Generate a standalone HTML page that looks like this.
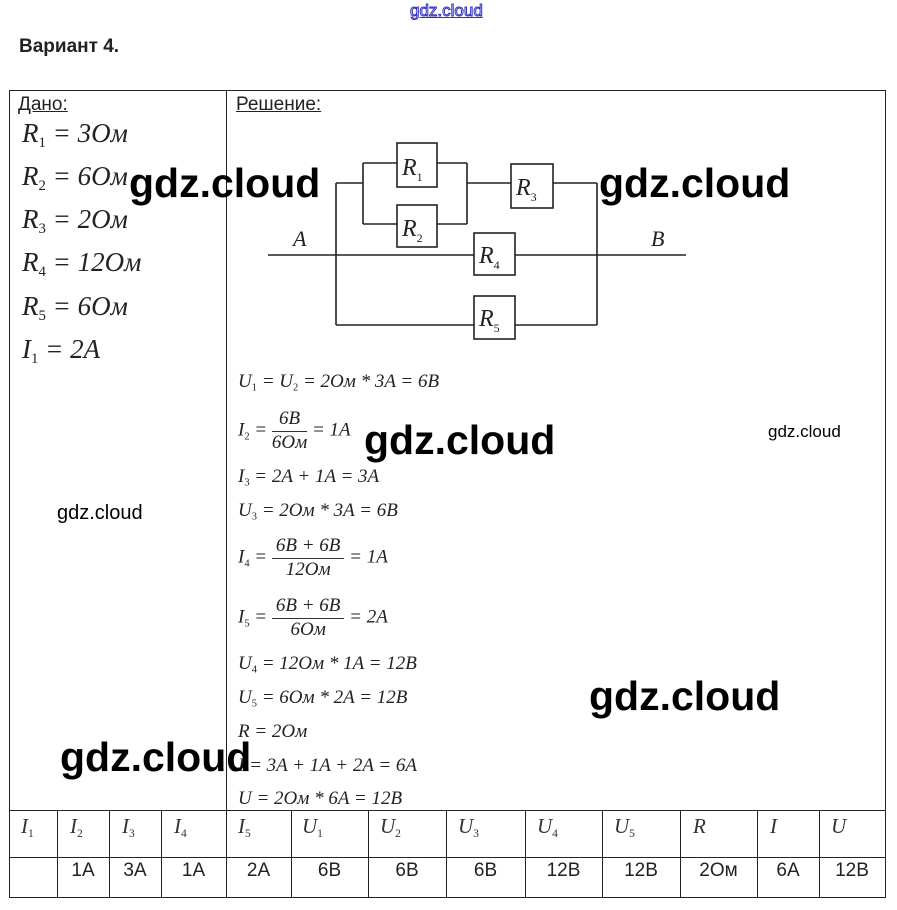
<!DOCTYPE html>
<html><head><meta charset="utf-8">
<style>
body{margin:0;width:897px;height:910px;background:#fff;position:relative;overflow:hidden;font-family:"Liberation Sans",sans-serif;}
.a{position:absolute;white-space:nowrap;}
.f{font-family:"Liberation Serif",serif;font-style:italic;color:#222;}
.f sub{font-size:55%;font-style:normal;vertical-align:-0.35em;}
.g{font-family:"Liberation Sans",sans-serif;font-weight:bold;color:#000;}
.ln{position:absolute;background:#222;}
.frac{display:inline-block;vertical-align:middle;text-align:center;}
.frac span{display:block;line-height:1.2;}
.frac .n{border-bottom:1px solid #333;padding:0 4px;}
.th{position:absolute;top:814px;font-family:"Liberation Serif",serif;font-style:italic;font-size:21px;color:#333;}
.th sub{font-size:55%;font-style:normal;vertical-align:-0.35em;}
.td{position:absolute;top:860px;font-size:19px;color:#222;text-align:center;}
</style></head><body>
<div class="a" style="left:410px;top:1px;font-size:17px;color:#fff;-webkit-text-stroke:1px #3030c0;text-decoration:underline;text-decoration-color:#3030c0;">gdz.cloud</div>
<div class="a" style="left:19px;top:36px;font-size:19px;font-weight:bold;color:#222;">Вариант 4.</div>

<!-- table lines -->
<div class="ln" style="left:9px;top:90px;width:877px;height:1px;"></div>
<div class="ln" style="left:9px;top:90px;width:1px;height:808px;"></div>
<div class="ln" style="left:885px;top:90px;width:1px;height:808px;"></div>
<div class="ln" style="left:9px;top:897px;width:877px;height:1px;"></div>
<div class="ln" style="left:226px;top:90px;width:1px;height:808px;"></div>
<div class="ln" style="left:9px;top:810px;width:877px;height:1px;"></div>
<div class="ln" style="left:9px;top:857px;width:877px;height:1px;"></div>
<div class="ln" style="left:57px;top:810px;width:1px;height:88px;"></div>
<div class="ln" style="left:109px;top:810px;width:1px;height:88px;"></div>
<div class="ln" style="left:161px;top:810px;width:1px;height:88px;"></div>
<div class="ln" style="left:291px;top:810px;width:1px;height:88px;"></div>
<div class="ln" style="left:368px;top:810px;width:1px;height:88px;"></div>
<div class="ln" style="left:446px;top:810px;width:1px;height:88px;"></div>
<div class="ln" style="left:525px;top:810px;width:1px;height:88px;"></div>
<div class="ln" style="left:602px;top:810px;width:1px;height:88px;"></div>
<div class="ln" style="left:680px;top:810px;width:1px;height:88px;"></div>
<div class="ln" style="left:757px;top:810px;width:1px;height:88px;"></div>
<div class="ln" style="left:819px;top:810px;width:1px;height:88px;"></div>

<div class="a" style="left:18px;top:94px;font-size:19px;color:#222;text-decoration:underline;">Дано:</div>
<div class="a" style="left:236px;top:94px;font-size:19px;color:#222;text-decoration:underline;">Решение:</div>

<div class="a f" style="left:22px;top:118px;font-size:27px;">R<sub>1</sub> = 3Ом</div>
<div class="a f" style="left:22px;top:161px;font-size:27px;">R<sub>2</sub> = 6Ом</div>
<div class="a f" style="left:22px;top:204px;font-size:27px;">R<sub>3</sub> = 2Ом</div>
<div class="a f" style="left:22px;top:247px;font-size:27px;">R<sub>4</sub> = 12Ом</div>
<div class="a f" style="left:22px;top:291px;font-size:27px;">R<sub>5</sub> = 6Ом</div>
<div class="a f" style="left:22px;top:334px;font-size:27px;">I<sub>1</sub> = 2A</div>

<svg class="a" style="left:0;top:0" width="897" height="910">
<g stroke="#222" stroke-width="1.6" fill="none">
<line x1="268" y1="255" x2="474" y2="255"/><line x1="515" y1="255" x2="686" y2="255"/>
<line x1="336" y1="183" x2="336" y2="325"/><line x1="597" y1="183" x2="597" y2="325"/>
<line x1="336" y1="183" x2="363" y2="183"/>
<line x1="363" y1="163" x2="363" y2="224"/>
<line x1="363" y1="163" x2="397" y2="163"/><line x1="437" y1="163" x2="467" y2="163"/>
<line x1="363" y1="224" x2="397" y2="224"/><line x1="437" y1="224" x2="467" y2="224"/>
<line x1="467" y1="163" x2="467" y2="224"/>
<line x1="467" y1="183" x2="511" y2="183"/><line x1="553" y1="183" x2="597" y2="183"/>
<line x1="336" y1="325" x2="474" y2="325"/><line x1="515" y1="325" x2="597" y2="325"/>
<rect x="397" y="143" width="40" height="44"/>
<rect x="397" y="205" width="40" height="42"/>
<rect x="511" y="164" width="42" height="44"/>
<rect x="474" y="233" width="41" height="42"/>
<rect x="474" y="296" width="41" height="43"/>
</g>
<g font-family="Liberation Serif,serif" font-style="italic" font-size="24" fill="#222">
<text x="402" y="175">R<tspan font-size="12" font-style="normal" dy="6">1</tspan></text>
<text x="402" y="236">R<tspan font-size="12" font-style="normal" dy="6">2</tspan></text>
<text x="516" y="195">R<tspan font-size="12" font-style="normal" dy="6">3</tspan></text>
<text x="479" y="263">R<tspan font-size="12" font-style="normal" dy="6">4</tspan></text>
<text x="479" y="326">R<tspan font-size="12" font-style="normal" dy="6">5</tspan></text>
<text x="293" y="246" font-size="22">A</text>
<text x="651" y="246" font-size="22">B</text>
</g>
</svg>

<div class="a f" style="left:238px;top:371px;font-size:19px;">U<sub>1</sub> = U<sub>2</sub> = 2Ом * 3A = 6B</div>
<div class="a f" style="left:238px;top:408px;font-size:19px;">I<sub>2</sub> = <span class="frac"><span class="n">6B</span><span>6Ом</span></span> = 1A</div>
<div class="a f" style="left:238px;top:466px;font-size:19px;">I<sub>3</sub> = 2A + 1A = 3A</div>
<div class="a f" style="left:238px;top:500px;font-size:19px;">U<sub>3</sub> = 2Ом * 3A = 6B</div>
<div class="a f" style="left:238px;top:535px;font-size:19px;">I<sub>4</sub> = <span class="frac"><span class="n">6B + 6B</span><span>12Ом</span></span> = 1A</div>
<div class="a f" style="left:238px;top:595px;font-size:19px;">I<sub>5</sub> = <span class="frac"><span class="n">6B + 6B</span><span>6Ом</span></span> = 2A</div>
<div class="a f" style="left:238px;top:653px;font-size:19px;">U<sub>4</sub> = 12Ом * 1A = 12B</div>
<div class="a f" style="left:238px;top:687px;font-size:19px;">U<sub>5</sub> = 6Ом * 2A = 12B</div>
<div class="a f" style="left:238px;top:721px;font-size:19px;">R = 2Ом</div>
<div class="a f" style="left:238px;top:755px;font-size:19px;">I = 3A + 1A + 2A = 6A</div>
<div class="a f" style="left:238px;top:788px;font-size:19px;">U = 2Ом * 6A = 12B</div>

<div class="th" style="left:21px;">I<sub>1</sub></div>
<div class="th" style="left:70px;">I<sub>2</sub></div>
<div class="th" style="left:122px;">I<sub>3</sub></div>
<div class="th" style="left:174px;">I<sub>4</sub></div>
<div class="th" style="left:238px;">I<sub>5</sub></div>
<div class="th" style="left:302px;">U<sub>1</sub></div>
<div class="th" style="left:380px;">U<sub>2</sub></div>
<div class="th" style="left:458px;">U<sub>3</sub></div>
<div class="th" style="left:537px;">U<sub>4</sub></div>
<div class="th" style="left:614px;">U<sub>5</sub></div>
<div class="th" style="left:693px;">R</div>
<div class="th" style="left:770px;">I</div>
<div class="th" style="left:831px;">U</div>

<div class="td" style="left:57px;width:52px;">1A</div>
<div class="td" style="left:109px;width:52px;">3A</div>
<div class="td" style="left:161px;width:65px;">1A</div>
<div class="td" style="left:226px;width:65px;">2A</div>
<div class="td" style="left:291px;width:77px;">6B</div>
<div class="td" style="left:368px;width:78px;">6B</div>
<div class="td" style="left:446px;width:79px;">6B</div>
<div class="td" style="left:525px;width:77px;">12B</div>
<div class="td" style="left:602px;width:78px;">12B</div>
<div class="td" style="left:680px;width:77px;">2Ом</div>
<div class="td" style="left:757px;width:62px;">6A</div>
<div class="td" style="left:819px;width:66px;">12B</div>

<div class="a g" style="left:129px;top:160px;font-size:41px;">gdz.cloud</div>
<div class="a g" style="left:599px;top:160px;font-size:41px;">gdz.cloud</div>
<div class="a g" style="left:364px;top:417px;font-size:41px;">gdz.cloud</div>
<div class="a g" style="left:589px;top:673px;font-size:41px;">gdz.cloud</div>
<div class="a g" style="left:60px;top:734px;font-size:41px;">gdz.cloud</div>
<div class="a" style="left:768px;top:422px;font-size:17px;color:#000;">gdz.cloud</div>
<div class="a" style="left:57px;top:502px;font-size:20px;color:#000;">gdz.cloud</div>
</body></html>
